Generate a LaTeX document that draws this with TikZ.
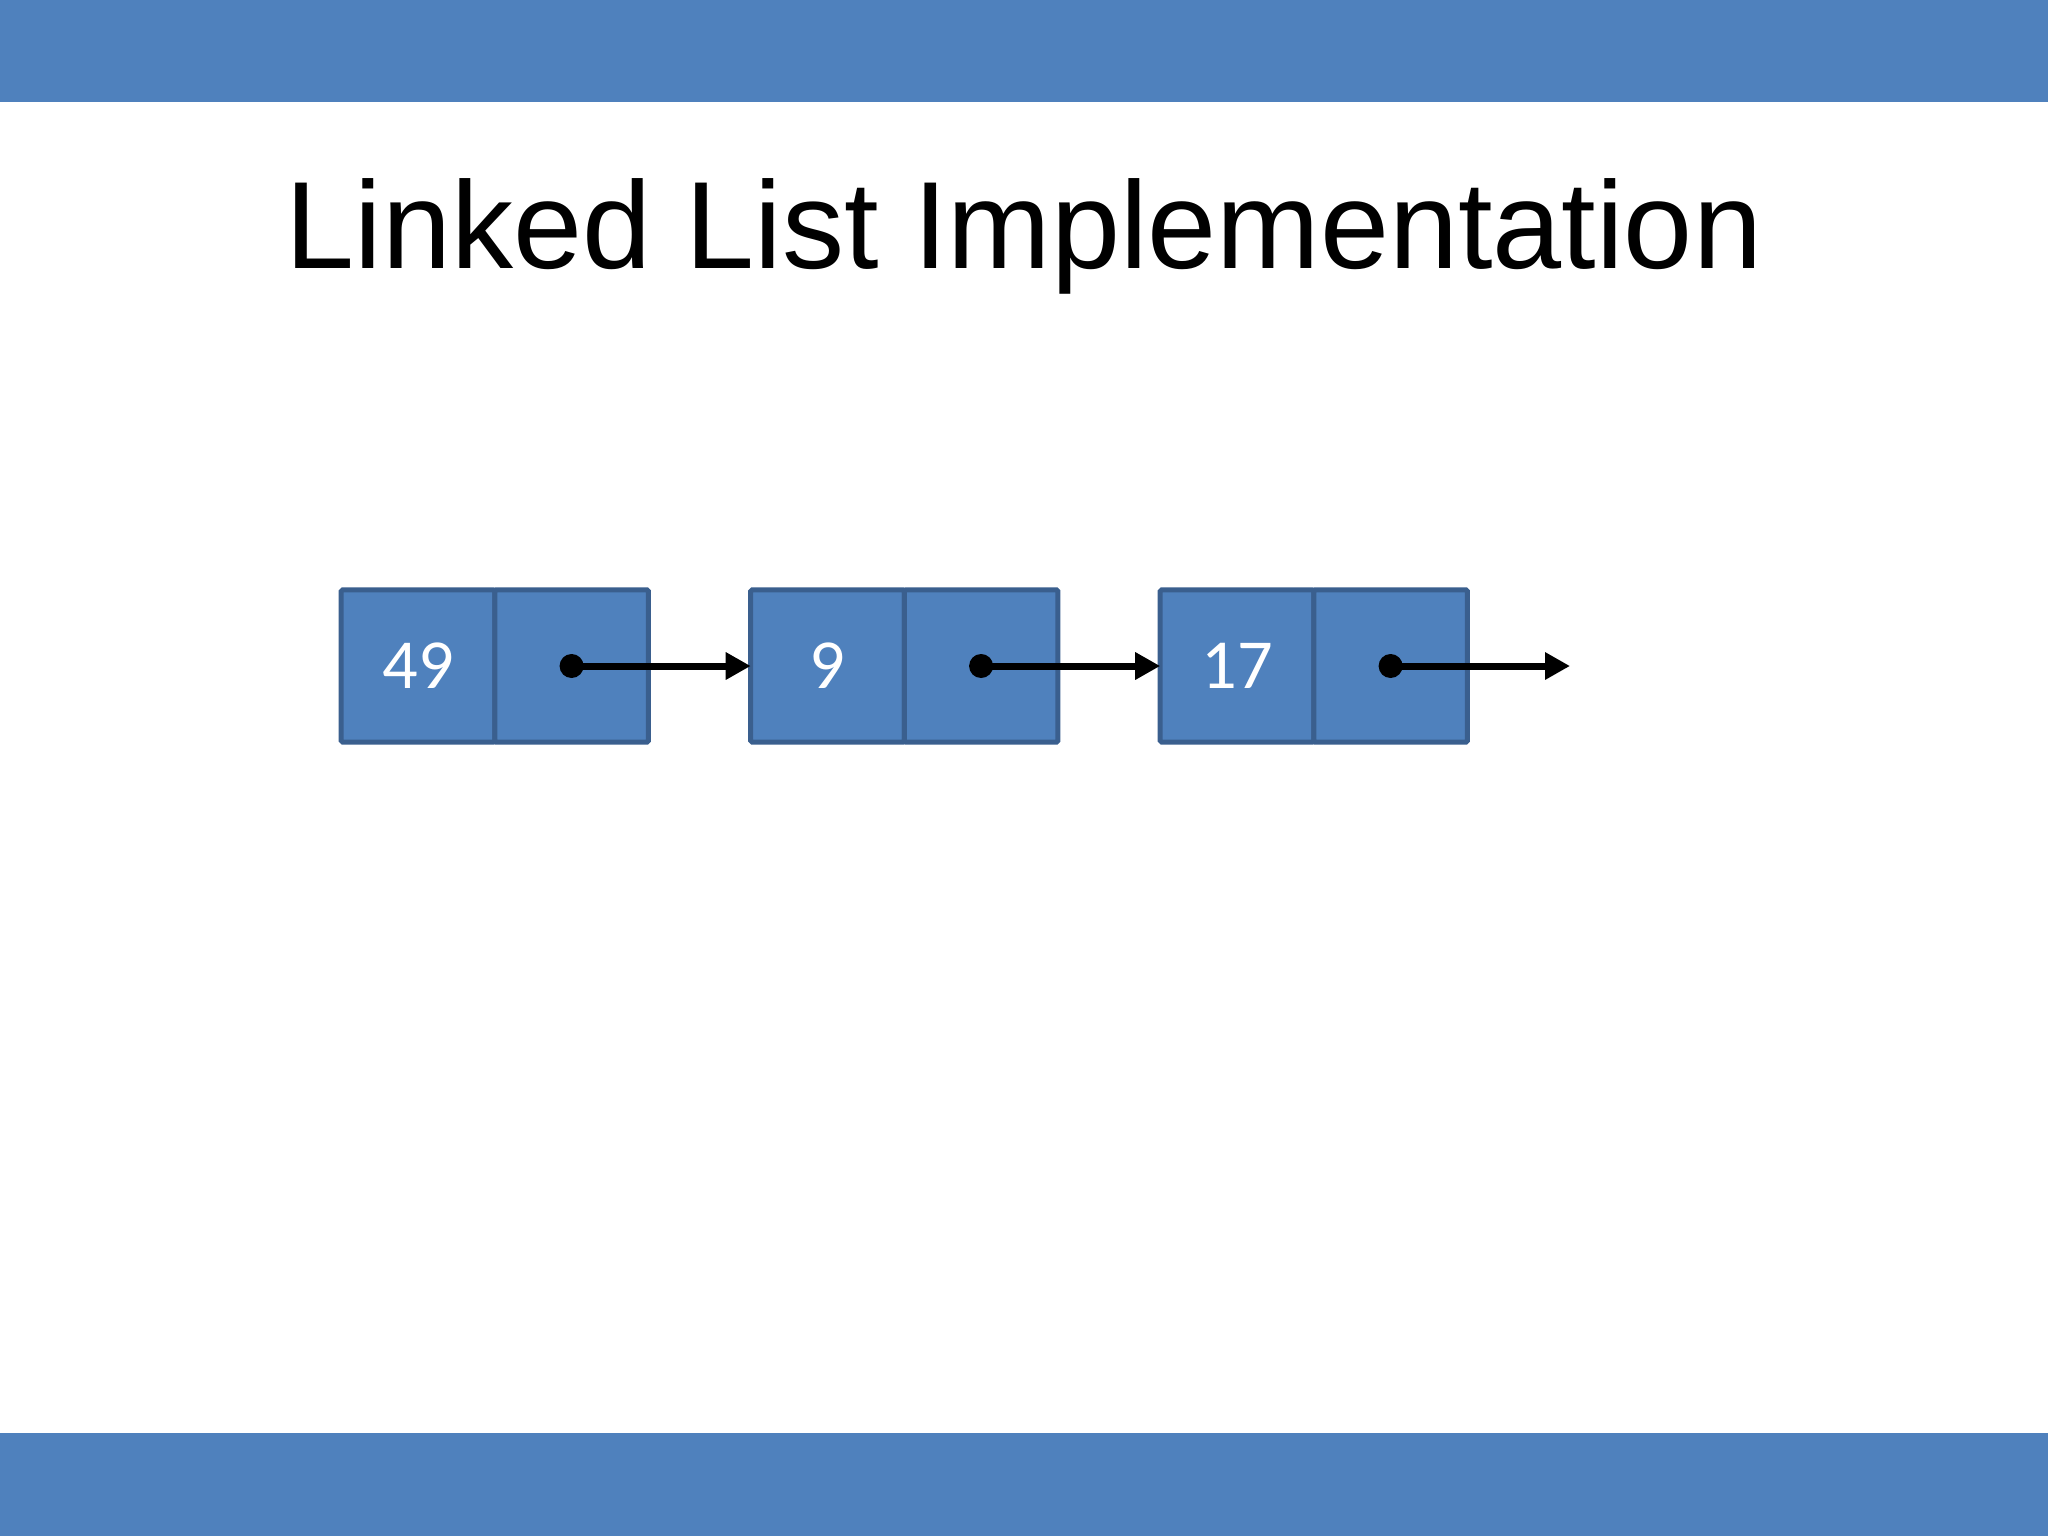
\documentclass[tikz,border=0pt]{standalone}
\usepackage{fontspec}
\setmainfont{Liberation Sans}
\newfontfamily\cellfont{Carlito}
\usetikzlibrary{positioning,arrows.meta}
\definecolor{barblue}{HTML}{4F81BD}
\definecolor{cellblue}{HTML}{4F81BD}
\definecolor{celledge}{HTML}{3A5F8E}

\begin{document}
\begin{tikzpicture}[x=0.01cm,y=-0.01cm,
    cell/.style={draw=celledge,fill=cellblue,line width=0.05cm,
      minimum width=1.535cm,minimum height=1.52cm,outer sep=0pt,
      rounded corners=0.4pt,inner sep=0pt,
      font=\cellfont\fontsize{20}{24}\selectfont,text=white},
    link/.style={line width=0.07cm,-{Triangle[length=0.25cm,width=0.26cm]}}]
      % Page and bars
      \useasboundingbox (0,0) rectangle (2048,1536);
      \fill[white] (0,0) rectangle (2048,1536);
      \fill[barblue] (0,0) rectangle (2048,102);
      \fill[barblue] (0,1433) rectangle (2048,1536);

      % Title
      \node[anchor=base,inner sep=0pt,font=\fontsize{35.3}{40}\selectfont] (title) at (1024,268) {Linked List Implementation};

      % List nodes
      \node[cell] (d1) at (418,666) {49};
      \node[cell,right=0pt of d1] (p1) {};
      \node[cell] (d2) at (827.5,666) {9};
      \node[cell,right=0pt of d2] (p2) {};
      \node[cell] (d3) at (1237,666) {17};
      \node[cell,right=0pt of d3] (p3) {};
      \coordinate (end) at (1570,666);

      % Pointers
      \foreach \a/\b in {p1/d2.west,p2/d3.west,p3/end} {
        \fill (\a.center) circle (0.12cm);
        \draw[link] (\a.center) -- (\b);
      }
    \end{tikzpicture}
\end{document}
